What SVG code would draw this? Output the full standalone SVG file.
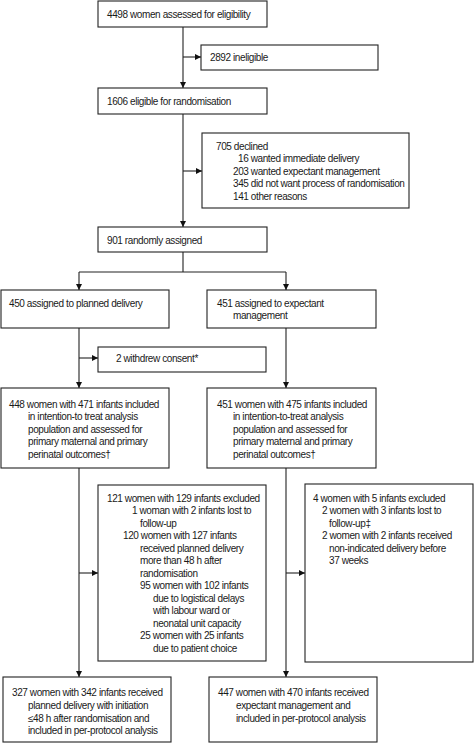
<svg xmlns="http://www.w3.org/2000/svg" width="474" height="743" viewBox="0 0 474 743">
<style>
.box{fill:#fff;stroke:#222;stroke-width:1.1}
.t{font-family:"Liberation Sans",Arial,sans-serif;font-size:10px;letter-spacing:-0.4px;fill:#1a1a1a}
.c{fill:none;stroke:#222;stroke-width:1.1}
</style>
<defs>
<marker id="ah" viewBox="0 0 10 10" refX="10" refY="5" markerWidth="6" markerHeight="6" markerUnits="userSpaceOnUse" orient="auto">
<path d="M0,0 L10,5 L0,10 z" fill="#111"/>
</marker>
</defs>
<rect width="474" height="743" fill="#fff"/>
<g id="connectors">
<path class="c" d="M183,27 V88" marker-end="url(#ah)"/>
<path class="c" d="M183,57 H201" marker-end="url(#ah)"/>
<path class="c" d="M183,114 V227" marker-end="url(#ah)"/>
<path class="c" d="M183,171 H202" marker-end="url(#ah)"/>
<path class="c" d="M183,252 V272 M79,272 H286"/>
<path class="c" d="M79,272 V290" marker-end="url(#ah)"/>
<path class="c" d="M286,272 V290" marker-end="url(#ah)"/>
<path class="c" d="M79,328 V388" marker-end="url(#ah)"/>
<path class="c" d="M79,358 H98" marker-end="url(#ah)"/>
<path class="c" d="M286,328 V388" marker-end="url(#ah)"/>
<path class="c" d="M79,468 V677" marker-end="url(#ah)"/>
<path class="c" d="M79,573 H98" marker-end="url(#ah)"/>
<path class="c" d="M286,468 V677" marker-end="url(#ah)"/>
<path class="c" d="M286,573 H305" marker-end="url(#ah)"/>
</g>
<g id="assessed">
<rect class="box" x="98" y="1" width="169" height="26"/>
<text class="t" x="107" y="17.5">4498 women assessed for eligibility</text>
</g>
<g id="ineligible">
<rect class="box" x="201" y="45" width="177" height="25"/>
<text class="t" x="210" y="61">2892 ineligible</text>
</g>
<g id="eligible">
<rect class="box" x="98" y="88" width="169" height="26"/>
<text class="t" x="107" y="104.5">1606 eligible for randomisation</text>
</g>
<g id="declined">
<rect class="box" x="202" y="133" width="207" height="75"/>
<text class="t" x="216" y="150">705 declined</text>
<text class="t" x="238" y="162">16 wanted immediate delivery</text>
<text class="t" x="233" y="175">203 wanted expectant management</text>
<text class="t" x="233" y="187">345 did not want process of randomisation</text>
<text class="t" x="233" y="200">141 other reasons</text>
</g>
<g id="randomised">
<rect class="box" x="98" y="227" width="169" height="25"/>
<text class="t" x="107" y="244">901 randomly assigned</text>
</g>
<g id="planned">
<rect class="box" x="1" y="290" width="168" height="38"/>
<text class="t" x="9" y="306.5">450 assigned to planned delivery</text>
</g>
<g id="expectant">
<rect class="box" x="207" y="290" width="169" height="38"/>
<text class="t" x="217" y="306.5">451 assigned to expectant</text>
<text class="t" x="233" y="319">management</text>
</g>
<g id="withdrew">
<rect class="box" x="98" y="347" width="168" height="25"/>
<text class="t" x="116" y="362">2 withdrew consent*</text>
</g>
<g id="itt-planned">
<rect class="box" x="1" y="388" width="168" height="80"/>
<text class="t" x="9" y="407.5">448 women with 471 infants included</text>
<text class="t" x="28" y="420">in intention-to treat analysis</text>
<text class="t" x="28" y="432.5">population and assessed for</text>
<text class="t" x="28" y="445">primary maternal and primary</text>
<text class="t" x="28" y="457.5">perinatal outcomes†</text>
</g>
<g id="itt-expectant">
<rect class="box" x="207" y="388" width="169" height="80"/>
<text class="t" x="217" y="407.5">451 women with 475 infants included</text>
<text class="t" x="233" y="420">in intention-to-treat analysis</text>
<text class="t" x="233" y="432.5">population and assessed for</text>
<text class="t" x="233" y="445">primary maternal and primary</text>
<text class="t" x="233" y="457.5">perinatal outcomes†</text>
</g>
<g id="excluded-planned">
<rect class="box" x="98" y="485" width="168" height="176"/>
<text class="t" x="107" y="501.5">121 women with 129 infants excluded</text>
<text class="t" x="132" y="514">1 woman with 2 infants lost to</text>
<text class="t" x="140" y="526.5">follow-up</text>
<text class="t" x="123" y="539">120 women with 127 infants</text>
<text class="t" x="140" y="551.5">received planned delivery</text>
<text class="t" x="140" y="564">more than 48 h after</text>
<text class="t" x="140" y="576.5">randomisation</text>
<text class="t" x="140" y="589">95 women with 102 infants</text>
<text class="t" x="153" y="601.5">due to logistical delays</text>
<text class="t" x="153" y="614">with labour ward or</text>
<text class="t" x="153" y="626.5">neonatal unit capacity</text>
<text class="t" x="140" y="639">25 women with 25 infants</text>
<text class="t" x="153" y="652">due to patient choice</text>
</g>
<g id="excluded-expectant">
<rect class="box" x="305" y="484" width="168" height="178"/>
<text class="t" x="313" y="501.5">4 women with 5 infants excluded</text>
<text class="t" x="322" y="514">2 women with 3 infants lost to</text>
<text class="t" x="329" y="526.5">follow-up‡</text>
<text class="t" x="322" y="539">2 women with 2 infants received</text>
<text class="t" x="329" y="551.5">non-indicated delivery before</text>
<text class="t" x="329" y="564">37 weeks</text>
</g>
<g id="pp-planned">
<rect class="box" x="3" y="677" width="168" height="65"/>
<text class="t" x="12" y="696">327 women with 342 infants received</text>
<text class="t" x="28" y="709">planned delivery with initiation</text>
<text class="t" x="28" y="721.5">≤48 h after randomisation and</text>
<text class="t" x="28" y="734">included in per-protocol analysis</text>
</g>
<g id="pp-expectant">
<rect class="box" x="209" y="677" width="168" height="65"/>
<text class="t" x="218" y="696">447 women with 470 infants received</text>
<text class="t" x="236" y="709">expectant management and</text>
<text class="t" x="236" y="721.5">included in per-protocol analysis</text>
</g>
</svg>
